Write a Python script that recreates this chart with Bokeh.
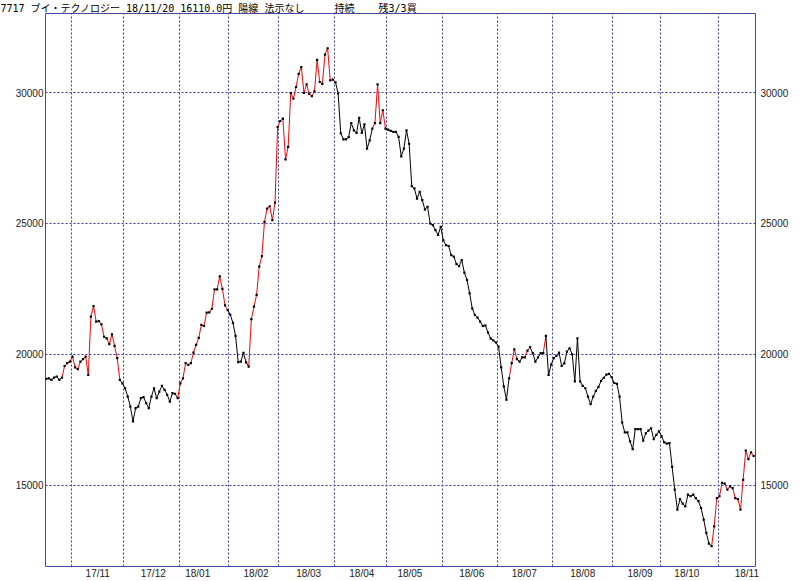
from bokeh.plotting import figure
from bokeh.models import FixedTicker, LinearAxis, ColumnDataSource, Range1d
from bokeh.embed import file_html
from bokeh.resources import INLINE

# ---- data -------------------------------------------------------------
prices = [
    19060, 19080, 19020, 19110, 19150, 19020, 19110, 19550, 19660, 19720,
    19910, 19500, 19430, 19720, 19810, 19910, 19210, 21440, 21840, 21250,
    21270, 21140, 20670, 20610, 20390, 20760, 20320, 19850, 19020, 18890,
    18700, 18380, 18000, 17430, 17940, 18000, 18320, 18360, 18130, 17940,
    18380, 18700, 18320, 18570, 18790, 18640, 18450, 18190, 18510, 18490,
    18320, 18890, 19080, 19660, 19590, 19660, 20060, 20360, 20630, 21120,
    21080, 21590, 21600, 21740, 22480, 22480, 22980, 22500, 21870, 21690,
    21510, 21200, 20700, 19700, 19720, 20050, 19690, 19530, 21340, 21820,
    22270, 23350, 23750, 25060, 25570, 25660, 25130, 25800, 28690, 28920,
    29010, 27450, 27930, 29990, 29770, 30220, 30720, 30980, 29990, 30320,
    29960, 29870, 30050, 31260, 30410, 30340, 31460, 31700, 30470, 30500,
    30400, 29970, 28450, 28220, 28220, 28300, 28840, 28560, 28460, 29040,
    28460, 28790, 27860, 28180, 28630, 28840, 30320, 28840, 29330, 28630,
    28590, 28540, 28500, 28500, 28310, 27570, 27860, 28560, 28050, 26430,
    26340, 25950, 26210, 25890, 25530, 25640, 25000, 24940, 24750, 24560,
    24870, 24360, 24170, 24140, 23790, 23730, 23450, 23370, 23600, 23120,
    22840, 22330, 21750, 21500, 21400, 21250, 21080, 21100, 20830, 20600,
    20530, 20450, 20290, 19500, 18770, 18260, 19080, 19660, 20190, 19810,
    19720, 19880, 19880, 20140, 20270, 20040, 19720, 19880, 20040, 20040,
    20700, 19210, 19600, 19850, 19940, 20060, 19550, 19650, 20100, 20230,
    20000, 18960, 20610, 18960, 18790, 18700, 18380, 18090, 18380, 18600,
    18750, 18980, 19100, 19220, 19250, 19120, 18900, 18870, 18380, 17390,
    17010, 17010, 16670, 16370, 17140, 17140, 17140, 16700, 16980, 17080,
    17170, 16750, 16920, 17050, 16860, 16630, 16580, 16600, 15690, 14820,
    14060, 14460, 14290, 14180, 14630, 14570, 14630, 14500, 14380, 14120,
    13680, 13170, 12760, 12660, 13420, 14500, 14570, 15080, 15050, 14820,
    14950, 14880, 14500, 14460, 14060, 15200, 16320, 15990, 16250, 16110,
]
# bullish (陽線) phases, as (first, last) trading-day index
red_runs = [(7, 28), (51, 69), (78, 110), (125, 129), (177, 179),
            (183, 184), (190, 190), (254, 269)]
# trading days per month, 2017/10 (part) .. 2018/11 (part)
month_days = [10, 20, 21, 19, 19, 21, 20, 21, 21, 21, 23, 18, 22, 14]
month_labels = ["17/11", "17/12", "18/01", "18/02", "18/03", "18/04", "18/05",
                "18/06", "18/07", "18/08", "18/09", "18/10", "18/11"]
month_label_pos = [19.6, 40.7, 57.6, 79.8, 99.8, 120.0, 138.3, 161.8, 181.8,
                   204.0, 225.8, 243.6, 266.4]
y_ticks = [15000, 20000, 25000, 30000]
title_parts = ["7717", "ブイ・テクノロジー", "18/11/20", "16110.0円", "陽線",
               "法示なし", "持続", "残3/3買"]
title_gaps = [1, 1, 1, 1, 1, 5, 4]   # spaces after each part

# ---- derived ------------------------------------------------------------
n = len(prices)
xs = list(range(n))
phase = [0] * n
for a, b in red_runs:
    for i in range(a, b + 1):
        phase[i] = 1
seg = ColumnDataSource(dict(
    x0=xs[:-1], y0=prices[:-1], x1=xs[1:], y1=prices[1:],
    color=["#ff0000" if phase[i] else "#000000" for i in range(1, n)],
))
bounds = []
acc = 0
for d in month_days[:-1]:
    acc += d
    bounds.append(acc - 0.5)
title_text = ""
for i, part in enumerate(title_parts):
    title_text += part
    if i < len(title_gaps):
        title_text += "\u00a0" * title_gaps[i]

# ---- figure -------------------------------------------------------------
W, H = 800, 581
L, R, T, B = 45, 45, 13, 14
Y_TOP = 33030
Y_PER_PX = 38.17
y_bottom = Y_TOP - (H - T - B) * Y_PER_PX
p = figure(width=W, height=H, output_backend="svg", toolbar_location=None,
           x_range=Range1d(-0.27, 269.7), y_range=Range1d(y_bottom, Y_TOP),
           min_border_left=L, min_border_right=R, min_border_top=T,
           min_border_bottom=B)
p.background_fill_color = "white"
p.border_fill_color = "white"
p.outline_line_color = "#4646a0"
p.outline_line_width = 1

p.title.text = title_text
p.title.align = "left"
p.title.offset = -L
p.title.standoff = 0
p.title.text_font = "DejaVu Sans Mono, Noto Sans CJK JP"
p.title.text_font_size = "10px"
p.title.text_font_style = "normal"
p.title.text_color = "#000000"

grid_color = "#3a3aa8"
p.xgrid.ticker = FixedTicker(ticks=bounds)
p.ygrid.ticker = FixedTicker(ticks=y_ticks)
for g in (p.xgrid, p.ygrid):
    g.grid_line_color = grid_color
    g.grid_line_dash = "2 2"
    g.grid_line_width = 1

p.segment(x0="x0", y0="y0", x1="x1", y1="y1", line_color="color",
          line_width=1, source=seg)
p.scatter(xs, prices, marker="square", size=2.2, fill_color="black",
          line_color=None)

# axes
p.xaxis.ticker = FixedTicker(ticks=month_label_pos)
p.xaxis.major_label_overrides = {pos: lab for pos, lab in zip(month_label_pos, month_labels)}
right = LinearAxis()
p.add_layout(right, "right")
for ax in (p.yaxis[0], right):
    ax.ticker = FixedTicker(ticks=y_ticks)
for ax in (p.xaxis[0], p.yaxis[0], right):
    ax.major_tick_line_color = None
    ax.minor_tick_line_color = None
    ax.major_tick_out = 0
    ax.major_tick_in = 0
    ax.minor_tick_out = 0
    ax.minor_tick_in = 0
    ax.axis_line_color = None
    ax.major_label_text_font = "Liberation Sans"
    ax.major_label_text_font_size = "10px"
    ax.major_label_text_color = "#222222"
p.yaxis[0].major_label_standoff = 2
right.major_label_standoff = 5
p.xaxis.major_label_standoff = 1

open("out.html", "w").write(file_html(p, INLINE))
